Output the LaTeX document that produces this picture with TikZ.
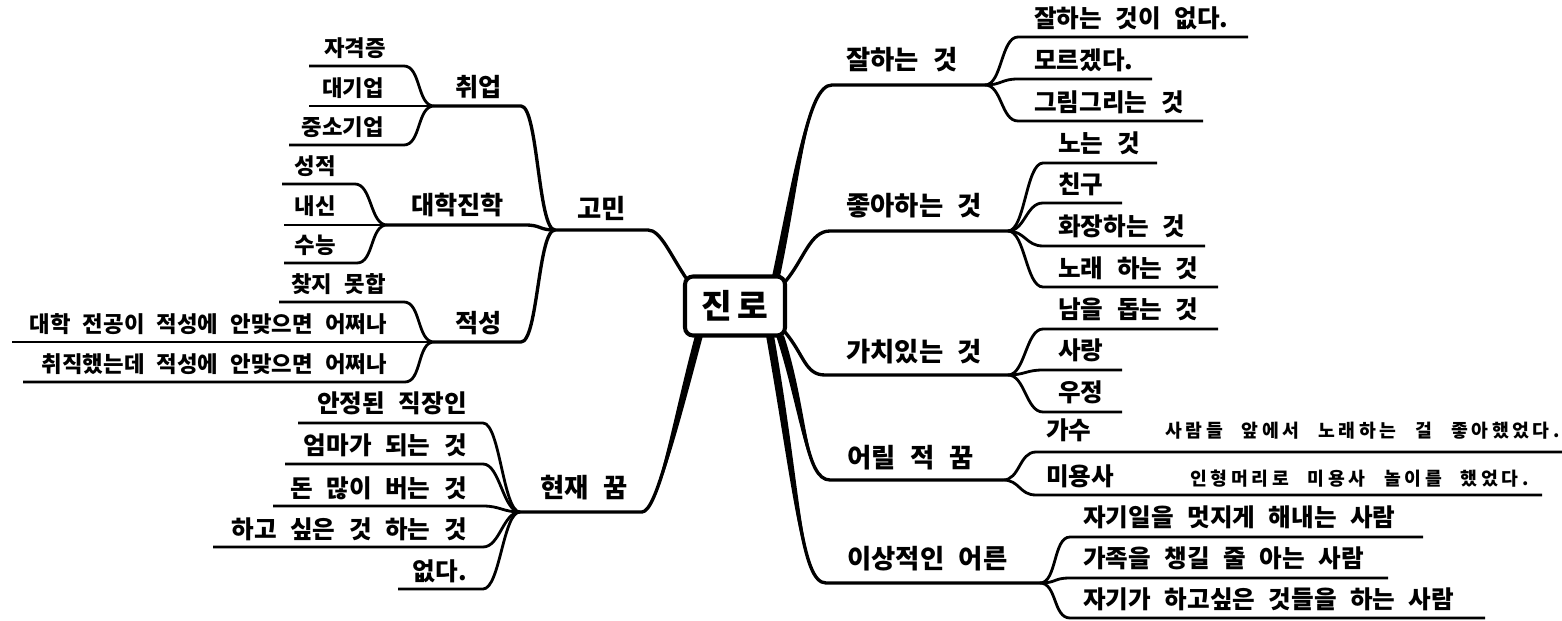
\documentclass[tikz,border=0pt]{standalone}
\usepackage{fontspec}
\setmainfont{Noto Sans CJK KR}[WordSpace=2.4]
\usetikzlibrary{calc}

\begin{document}
\begin{tikzpicture}[x=0.02cm,y=0.02cm,
  rootbox/.style={draw,line width=2.3pt,rounded corners=0.16cm,fill=white,
    minimum width=2cm,minimum height=1.18cm,inner sep=0pt,outer sep=0pt,
    font=\fontsize{19}{22}\selectfont\bfseries\addfontfeature{LetterSpace=18}},
  mainlbl/.style={font=\fontsize{15}{17}\selectfont\bfseries,inner sep=0pt},
  sublbl/.style={font=\fontsize{14.3}{16}\selectfont\bfseries,inner sep=0pt},
  leaflbl/.style={font=\fontsize{14}{16}\selectfont\bfseries,inner sep=0pt},
  minilbl/.style={font=\fontsize{12.7}{15}\selectfont\bfseries,inner sep=0pt},
  notelbl/.style={font=\fontsize{10.4}{12}\selectfont\bfseries\addfontfeature{LetterSpace=20},inner sep=0pt},
  limb/.style={line width=1.9pt,line join=round},
  twig/.style={line width=1.6pt,line join=round},
  lfork/.style={out=180,in=0,out distance=0.34cm,in distance=0.34cm},
  rfork/.style={out=0,in=180,out distance=0.34cm,in distance=0.34cm}
]
  \useasboundingbox (0,0) rectangle (1562,-621);

  \node[rootbox] (root) at (735,-306) {진로};

  % exits on the box
  \coordinate (ex-gomin) at ($(root.north west)+(2,-3)$);
  \coordinate (ex-hyeon) at ($(root.south west)+(14,0)$);
  \coordinate (ex-jal) at ($(root.north east)+(-9,0)$);
  \coordinate (ex-joa) at ($(root.east)+(0,24)$);
  \coordinate (ex-gachi) at ($(root.east)+(0,-26)$);
  \coordinate (ex-eoril) at ($(root.south east)+(-5,0)$);
  \coordinate (ex-isang) at ($(root.south east)+(-15,0)$);

  % forks, left
  \coordinate (gomin-s) at (648,-230);   \coordinate (gomin-j) at (555,-230);
  \coordinate (chwi-s) at (521,-106);    \coordinate (chwi-j) at (434,-106);
  \coordinate (daehak-s) at (525,-225);  \coordinate (daehak-j) at (387,-225);
  \coordinate (jeok-s) at (521,-342);    \coordinate (jeok-j) at (434,-342);
  \coordinate (hyeon-s) at (642,-512);   \coordinate (hyeon-j) at (520,-512);
  % forks, right
  \coordinate (jal-s) at (832,-85);      \coordinate (jal-j) at (985,-85);
  \coordinate (joa-s) at (830,-231);     \coordinate (joa-j) at (1008,-231);
  \coordinate (gachi-s) at (825,-375);   \coordinate (gachi-j) at (1008,-375);
  \coordinate (eoril-s) at (830,-480);   \coordinate (eoril-j) at (1003,-480);
  \coordinate (isang-s) at (826,-583);   \coordinate (isang-j) at (1040,-583);

  % leaf lines, left
  \coordinate (jagyeok-a) at (404,-66);  \coordinate (jagyeok-b) at (309,-66);
  \coordinate (daegi-b) at (309,-106);
  \coordinate (jungso-a) at (404,-145);  \coordinate (jungso-b) at (289,-145);
  \coordinate (seong-a) at (355,-184);   \coordinate (seong-b) at (282,-184);
  \coordinate (naesin-b) at (284,-225);
  \coordinate (suneung-a) at (357,-263); \coordinate (suneung-b) at (284,-263);
  \coordinate (chat-a) at (404,-302);    \coordinate (chat-b) at (279,-302);
  \coordinate (jeongong-b) at (12,-342);
  \coordinate (chwijik-a) at (405,-382); \coordinate (chwijik-b) at (23,-382);
  \coordinate (anjeong-a) at (483,-423); \coordinate (anjeong-b) at (298,-423);
  \coordinate (eomma-a) at (483,-464);   \coordinate (eomma-b) at (285,-464);
  \coordinate (don-a) at (483,-506);     \coordinate (don-b) at (273,-506);
  \coordinate (hago-a) at (483,-547);    \coordinate (hago-b) at (213,-547);
  \coordinate (eopda-a) at (483,-589);   \coordinate (eopda-b) at (398,-589);
  % leaf lines, right
  \coordinate (jalnone-a) at (1018,-37); \coordinate (jalnone-b) at (1248,-37);
  \coordinate (moreu-a) at (1018,-79);   \coordinate (moreu-b) at (1152,-79);
  \coordinate (geurim-a) at (1018,-121); \coordinate (geurim-b) at (1203,-121);
  \coordinate (non-a) at (1043,-163);    \coordinate (non-b) at (1157,-163);
  \coordinate (chingu-a) at (1043,-203); \coordinate (chingu-b) at (1122,-203);
  \coordinate (hwajang-a) at (1043,-246);\coordinate (hwajang-b) at (1205,-246);
  \coordinate (norae-a) at (1043,-287);  \coordinate (norae-b) at (1218,-287);
  \coordinate (nameul-a) at (1043,-329); \coordinate (nameul-b) at (1218,-329);
  \coordinate (sarang-a) at (1043,-370); \coordinate (sarang-b) at (1122,-370);
  \coordinate (ujeong-a) at (1043,-412); \coordinate (ujeong-b) at (1122,-412);
  \coordinate (gasu-a) at (1036,-452);   \coordinate (gasu-b) at (1562,-452);
  \coordinate (miyong-a) at (1036,-495); \coordinate (miyong-b) at (1542,-495);
  \coordinate (jagiil-a) at (1070,-537); \coordinate (jagiil-b) at (1423,-537);
  \coordinate (gajok-a) at (1070,-578);  \coordinate (gajok-b) at (1388,-578);
  \coordinate (jagiga-a) at (1070,-618); \coordinate (jagiga-b) at (1485,-618);

  % main branches
  \draw[limb] (ex-gomin) to[out=124,in=0,out distance=0.6cm,in distance=0.25cm] (gomin-s) -- (gomin-j);
  \draw[limb] (ex-hyeon) to[out=255,in=0,out distance=1.8cm,in distance=0.3cm] (hyeon-s) -- (hyeon-j);
  \fill ($(ex-hyeon)+(-4,0)$) to[out=255,in=0,out distance=1.8cm,in distance=0.3cm] (hyeon-s)
    to[out=0,in=255,out distance=0.3cm,in distance=1.8cm] ($(ex-hyeon)+(4,0)$) -- cycle;
  \draw[limb] (ex-jal) to[out=78,in=180,out distance=2cm,in distance=0.5cm] (jal-s) -- (jal-j);
  \fill ($(ex-jal)+(-4,0)$) to[out=78,in=180,out distance=2cm,in distance=0.5cm] (jal-s)
    to[out=180,in=78,out distance=0.5cm,in distance=2cm] ($(ex-jal)+(4,0)$) -- cycle;
  \draw[limb] (ex-joa) to[out=50,in=180,out distance=0.6cm,in distance=0.4cm] (joa-s) -- (joa-j);
  \draw[limb] (ex-gachi) to[out=-50,in=180,out distance=0.6cm,in distance=0.4cm] (gachi-s) -- (gachi-j);
  \draw[limb] (ex-eoril) to[out=-72,in=180,out distance=1.6cm,in distance=0.5cm] (eoril-s) -- (eoril-j);
  \fill ($(ex-eoril)+(-4,0)$) to[out=-72,in=180,out distance=1.6cm,in distance=0.5cm] (eoril-s)
    to[out=180,in=-72,out distance=0.5cm,in distance=1.6cm] ($(ex-eoril)+(4,0)$) -- cycle;
  \draw[limb] (ex-isang) to[out=-80,in=180,out distance=3.2cm,in distance=0.5cm] (isang-s) -- (isang-j);
  \fill ($(ex-isang)+(-4,0)$) to[out=-80,in=180,out distance=3.2cm,in distance=0.5cm] (isang-s)
    to[out=180,in=-80,out distance=0.5cm,in distance=3.2cm] ($(ex-isang)+(4,0)$) -- cycle;

  % 고민
  \draw[limb] (gomin-j) to[lfork] (chwi-s) -- (chwi-j);
  \draw[limb] (gomin-j) to[lfork] (daehak-s) -- (daehak-j);
  \draw[limb] (gomin-j) to[lfork] (jeok-s) -- (jeok-j);
  \draw[twig] (chwi-j) to[lfork] (jagyeok-a) -- (jagyeok-b);
  \draw[twig] (chwi-j) -- (daegi-b);
  \draw[twig] (chwi-j) to[lfork] (jungso-a) -- (jungso-b);
  \draw[twig] (daehak-j) to[lfork] (seong-a) -- (seong-b);
  \draw[twig] (daehak-j) -- (naesin-b);
  \draw[twig] (daehak-j) to[lfork] (suneung-a) -- (suneung-b);
  \draw[twig] (jeok-j) to[lfork] (chat-a) -- (chat-b);
  \draw[twig] (jeok-j) -- (jeongong-b);
  \draw[twig] (jeok-j) to[lfork] (chwijik-a) -- (chwijik-b);
  % 현재 꿈
  \draw[twig] (hyeon-j) to[lfork] (anjeong-a) -- (anjeong-b);
  \draw[twig] (hyeon-j) to[lfork] (eomma-a) -- (eomma-b);
  \draw[twig] (hyeon-j) to[lfork] (don-a) -- (don-b);
  \draw[twig] (hyeon-j) to[lfork] (hago-a) -- (hago-b);
  \draw[twig] (hyeon-j) to[lfork] (eopda-a) -- (eopda-b);
  % right side
  \draw[twig] (jal-j) to[rfork] (jalnone-a) -- (jalnone-b);
  \draw[twig] (jal-j) to[rfork] (moreu-a) -- (moreu-b);
  \draw[twig] (jal-j) to[rfork] (geurim-a) -- (geurim-b);
  \draw[twig] (joa-j) to[rfork] (non-a) -- (non-b);
  \draw[twig] (joa-j) to[rfork] (chingu-a) -- (chingu-b);
  \draw[twig] (joa-j) to[rfork] (hwajang-a) -- (hwajang-b);
  \draw[twig] (joa-j) to[rfork] (norae-a) -- (norae-b);
  \draw[twig] (gachi-j) to[rfork] (nameul-a) -- (nameul-b);
  \draw[twig] (gachi-j) to[rfork] (sarang-a) -- (sarang-b);
  \draw[twig] (gachi-j) to[rfork] (ujeong-a) -- (ujeong-b);
  \draw[twig] (eoril-j) to[rfork] (gasu-a) -- (gasu-b);
  \draw[twig] (eoril-j) to[rfork] (miyong-a) -- (miyong-b);
  \draw[twig] (isang-j) to[rfork] (jagiil-a) -- (jagiil-b);
  \draw[twig] (isang-j) to[rfork] (gajok-a) -- (gajok-b);
  \draw[twig] (isang-j) to[rfork] (jagiga-a) -- (jagiga-b);

  % labels, left
  \node[mainlbl,anchor=base east] (t-gomin) at (626,-219) {고민};
  \node[sublbl,anchor=base east] (t-chwi) at (502,-97) {취업};
  \node[sublbl,anchor=base east] (t-daehak) at (504,-215) {대학진학};
  \node[sublbl,anchor=base east] (t-jeok) at (502,-333) {적성};
  \node[minilbl,anchor=base east] (t-jagyeok) at (386,-57) {자격증};
  \node[minilbl,anchor=base east] (t-daegi) at (384,-97) {대기업};
  \node[minilbl,anchor=base east] (t-jungso) at (384,-136) {중소기업};
  \node[minilbl,anchor=base east] (t-seong) at (336,-175) {성적};
  \node[minilbl,anchor=base east] (t-naesin) at (336,-215) {내신};
  \node[minilbl,anchor=base east] (t-suneung) at (336,-254) {수능};
  \node[minilbl,anchor=base east] (t-chat) at (386,-293) {찾지 못합};
  \node[minilbl,anchor=base east] (t-jeongong) at (387,-333) {대학 전공이 적성에 안맞으면 어쩌나};
  \node[minilbl,anchor=base east] (t-chwijik) at (387,-373) {취직했는데 적성에 안맞으면 어쩌나};
  \node[mainlbl,anchor=base west] (t-hyeon) at (540,-498) {현재 꿈};
  \node[leaflbl,anchor=base east] (t-anjeong) at (467,-413) {안정된 직장인};
  \node[leaflbl,anchor=base east] (t-eomma) at (467,-455) {엄마가 되는 것};
  \node[leaflbl,anchor=base east] (t-don) at (467,-497) {돈 많이 버는 것};
  \node[leaflbl,anchor=base east] (t-hago) at (467,-538) {하고 싶은 것 하는 것};
  \node[leaflbl,anchor=base east] (t-eopda) at (467,-580) {없다.};

  % labels, right
  \node[mainlbl,anchor=base west] (t-jal) at (846,-70) {잘하는 것};
  \node[mainlbl,anchor=base west] (t-joa) at (846,-216) {좋아하는 것};
  \node[mainlbl,anchor=base west] (t-gachi) at (846,-362) {가치있는 것};
  \node[mainlbl,anchor=base west] (t-eoril) at (847,-467) {어릴 적 꿈};
  \node[mainlbl,anchor=base west] (t-isang) at (847,-568) {이상적인 어른};
  \node[leaflbl,anchor=base west] (t-jalnone) at (1034,-28) {잘하는 것이 없다.};
  \node[leaflbl,anchor=base west] (t-moreu) at (1034,-70) {모르겠다.};
  \node[leaflbl,anchor=base west] (t-geurim) at (1034,-112) {그림그리는 것};
  \node[leaflbl,anchor=base west] (t-non) at (1058,-153) {노는 것};
  \node[leaflbl,anchor=base west] (t-chingu) at (1058,-194) {친구};
  \node[leaflbl,anchor=base west] (t-hwajang) at (1058,-236) {화장하는 것};
  \node[leaflbl,anchor=base west] (t-norae) at (1058,-278) {노래 하는 것};
  \node[leaflbl,anchor=base west] (t-nameul) at (1058,-319) {남을 돕는 것};
  \node[leaflbl,anchor=base west] (t-sarang) at (1058,-360) {사랑};
  \node[leaflbl,anchor=base west] (t-ujeong) at (1058,-401) {우정};
  \node[leaflbl,anchor=base west] (t-gasu) at (1046,-439) {가수};
  \node[notelbl,anchor=base west] (t-gasunote) at (1165,-438) {사람들 앞에서 노래하는 걸 좋아했었다.};
  \node[leaflbl,anchor=base west] (t-miyong) at (1046,-485) {미용사};
  \node[notelbl,anchor=base west] (t-miyongnote) at (1190,-485) {인형머리로 미용사 놀이를 했었다.};
  \node[leaflbl,anchor=base west] (t-jagiil) at (1083,-526) {자기일을 멋지게 해내는 사람};
  \node[leaflbl,anchor=base west] (t-gajok) at (1083,-567) {가족을 챙길 줄 아는 사람};
  \node[leaflbl,anchor=base west] (t-jagiga) at (1083,-608) {자기가 하고싶은 것들을 하는 사람};
\end{tikzpicture}
\end{document}
